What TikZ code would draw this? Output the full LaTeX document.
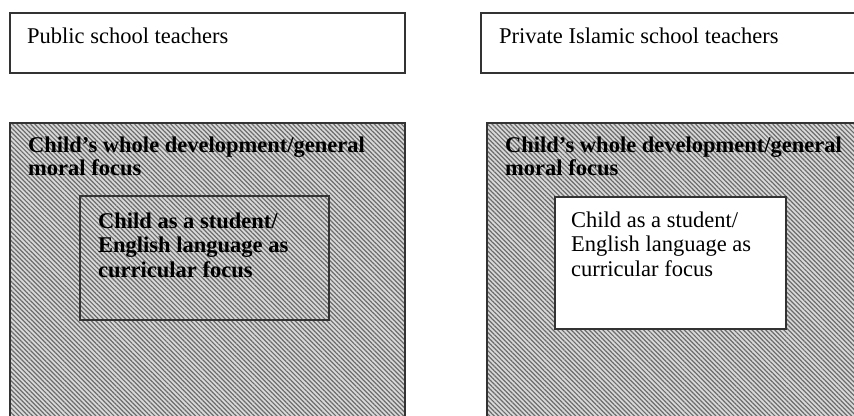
\documentclass[tikz,border=0pt]{standalone}
\usepackage{fontspec}
\setmainfont{Liberation Serif}
\usetikzlibrary{patterns.meta}
\begin{document}
\begin{tikzpicture}[x=1pt,y=-1pt,
  frame/.style={draw=black!80, line width=1.2pt},
  hatched/.style={frame, preaction={fill=black!15}, pattern={Lines[angle=-45,distance=3.2pt,line width=1.2pt]}, pattern color=black!58},
  txt/.style={anchor=base west, inner sep=0pt, font=\fontsize{22.5}{24.5}\selectfont, align=left}]
\useasboundingbox (0,0) rectangle (854,415);
\clip (0,0) rectangle (854,415);
% top boxes
\draw[frame] (10,13) rectangle (405,73);
\draw[frame] (481,13) rectangle (880,73);
\node[txt] (pub) at (27,43) {Public school teachers};
\node[txt] (priv) at (499,43) {Private Islamic school teachers};
% hatched boxes
\draw[hatched] (10,123) rectangle (405,440);
\draw[hatched] (487,123) rectangle (880,440);
\draw[frame] (80,196) rectangle (329,320);
\draw[frame, fill=white] (555,197) rectangle (786,329);
\node[txt, font=\fontsize{22.5}{23}\selectfont\bfseries] (lwhole) at (28,175) {Child's whole development/general\\moral focus};
\node[txt, font=\fontsize{22.5}{23}\selectfont\bfseries] (rwhole) at (505,175) {Child's whole development/general\\moral focus};
\node[txt, font=\fontsize{22.5}{24.5}\selectfont\bfseries] (lstud) at (98,277) {Child as a student/\\English language as\\curricular focus};
\node[txt] (rstud) at (571,276) {Child as a student/\\English language as\\curricular focus};
\end{tikzpicture}
\end{document}
